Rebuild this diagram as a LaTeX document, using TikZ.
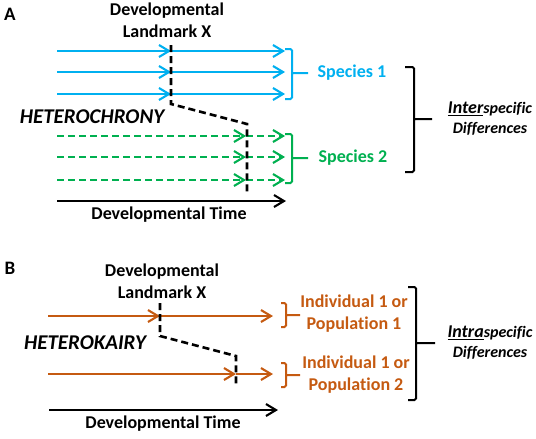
\documentclass[tikz,border=0pt]{standalone}
\usepackage{fontspec}
\setmainfont{Carlito}[Ligatures=NoCommon]
\usetikzlibrary{arrows.meta}
\definecolor{spOne}{HTML}{00B0F0}
\definecolor{spTwo}{HTML}{00B050}
\definecolor{popCol}{HTML}{C55A11}
\begin{document}
\begin{tikzpicture}[x=1pt,y=-1pt,
  track/.style={line width=2.3pt,-{Straight Barb[length=10pt,width=12pt,line width=2.1pt]}},
  landmark/.style={black,line width=2.6pt,dash pattern=on 7pt off 4pt},
  brace/.style={line width=2pt,rounded corners=1.5pt},
  lbl/.style={font=\bfseries\fontsize{18}{22}\selectfont,inner sep=0pt,align=center},
  diff/.style={font=\bfseries\itshape\fontsize{16}{20}\selectfont,inner sep=0pt,align=center}]
\useasboundingbox (0,0) rectangle (536,439);
% panel A
\node[lbl,font=\bfseries\fontsize{19}{22}\selectfont] (labA) at (10,14) {A};
\node[lbl] (lmA) at (167,20) {Developmental\\Landmark X};
\foreach \r/\y in {1/51,2/72,3/94}{
  \coordinate (sA\r) at (57,\y);
  \coordinate (mA\r) at (171,\y);
  \coordinate (eA\r) at (285,\y);
  \draw[track,spOne] (sA\r) -- (mA\r);
  \draw[track,spOne] (mA\r) -- (eA\r);
}
\foreach \r/\y in {1/136,2/157,3/180}{
  \coordinate (sB\r) at (57,\y);
  \coordinate (mB\r) at (246,\y);
  \coordinate (eB\r) at (285,\y);
  \draw[track,spTwo,dash pattern=on 7pt off 4pt] (sB\r) -- (mB\r);
  \draw[track,spTwo,dash pattern=on 7pt off 4pt] (mB\r) -- (eB\r);
}
\coordinate (xA1) at (171,45);
\coordinate (xA2) at (171,104);
\coordinate (xA3) at (247,124);
\coordinate (xA4) at (247,193);
\draw[landmark] (xA1) -- (xA2) -- (xA3) -- (xA4);
\node[font=\bfseries\itshape\fontsize{21}{24}\selectfont,inner sep=0pt] (hetA) at (92,117) {HETEROCHRONY};
\coordinate (tA0) at (57,201);
\coordinate (tA1) at (286,201);
\draw[track,black] (tA0) -- (tA1);
\node[lbl] (timeA) at (169,215) {Developmental Time};
\draw[brace,spOne] (285,49) -- (292,49) -- (292,99) -- (285,99) (292,73) -- (308,73);
\node[lbl,spOne] (sp1) at (352,73) {Species 1};
\draw[brace,spTwo] (285,134) -- (292,134) -- (292,183) -- (285,183) (292,158) -- (308,158);
\node[lbl,spTwo] (sp2) at (353,158) {Species 2};
\draw[brace] (405,67) -- (414,67) -- (414,172) -- (405,172) (414,119) -- (432,119);
\node[diff] (interA) at (490,119) {{\fontsize{18}{20}\selectfont\underline{Inter}}specific\\Differences};
% panel B
\node[lbl,font=\bfseries\fontsize{19}{22}\selectfont] (labB) at (10,268) {B};
\node[lbl] (lmB) at (162,281) {Developmental\\Landmark X};
\foreach \r/\y/\m in {1/316/160,2/374/236}{
  \coordinate (sC\r) at (48,\y);
  \coordinate (mC\r) at (\m,\y);
  \coordinate (eC\r) at (273,\y);
  \draw[track,popCol] (sC\r) -- (mC\r);
  \draw[track,popCol] (mC\r) -- (eC\r);
}
\coordinate (xB1) at (160,303);
\coordinate (xB2) at (160,336);
\coordinate (xB3) at (236,356);
\coordinate (xB4) at (236,387);
\draw[landmark] (xB1) -- (xB2) -- (xB3) -- (xB4);
\node[font=\bfseries\itshape\fontsize{21}{24}\selectfont,inner sep=0pt] (hetB) at (85,343) {HETEROKAIRY};
\coordinate (tB0) at (49,410);
\coordinate (tB1) at (278,410);
\draw[track,black] (tB0) -- (tB1);
\node[lbl] (timeB) at (163,424) {Developmental Time};
\draw[brace,popCol] (281,303) -- (286,303) -- (286,327) -- (281,327) (286,315) -- (300,315);
\node[lbl,popCol] (pop1) at (354,314) {Individual 1 or\\Population 1};
\draw[brace,popCol] (281,363) -- (286,363) -- (286,387) -- (281,387) (286,375) -- (300,375);
\node[lbl,popCol] (pop2) at (356,375) {Individual 1 or\\Population 2};
\draw[brace] (408,287) -- (416,287) -- (416,400) -- (408,400) (416,343) -- (435,343);
\node[diff] (intraB) at (490,343) {{\fontsize{18}{20}\selectfont\underline{Intra}}specific\\Differences};
\end{tikzpicture}
\end{document}
